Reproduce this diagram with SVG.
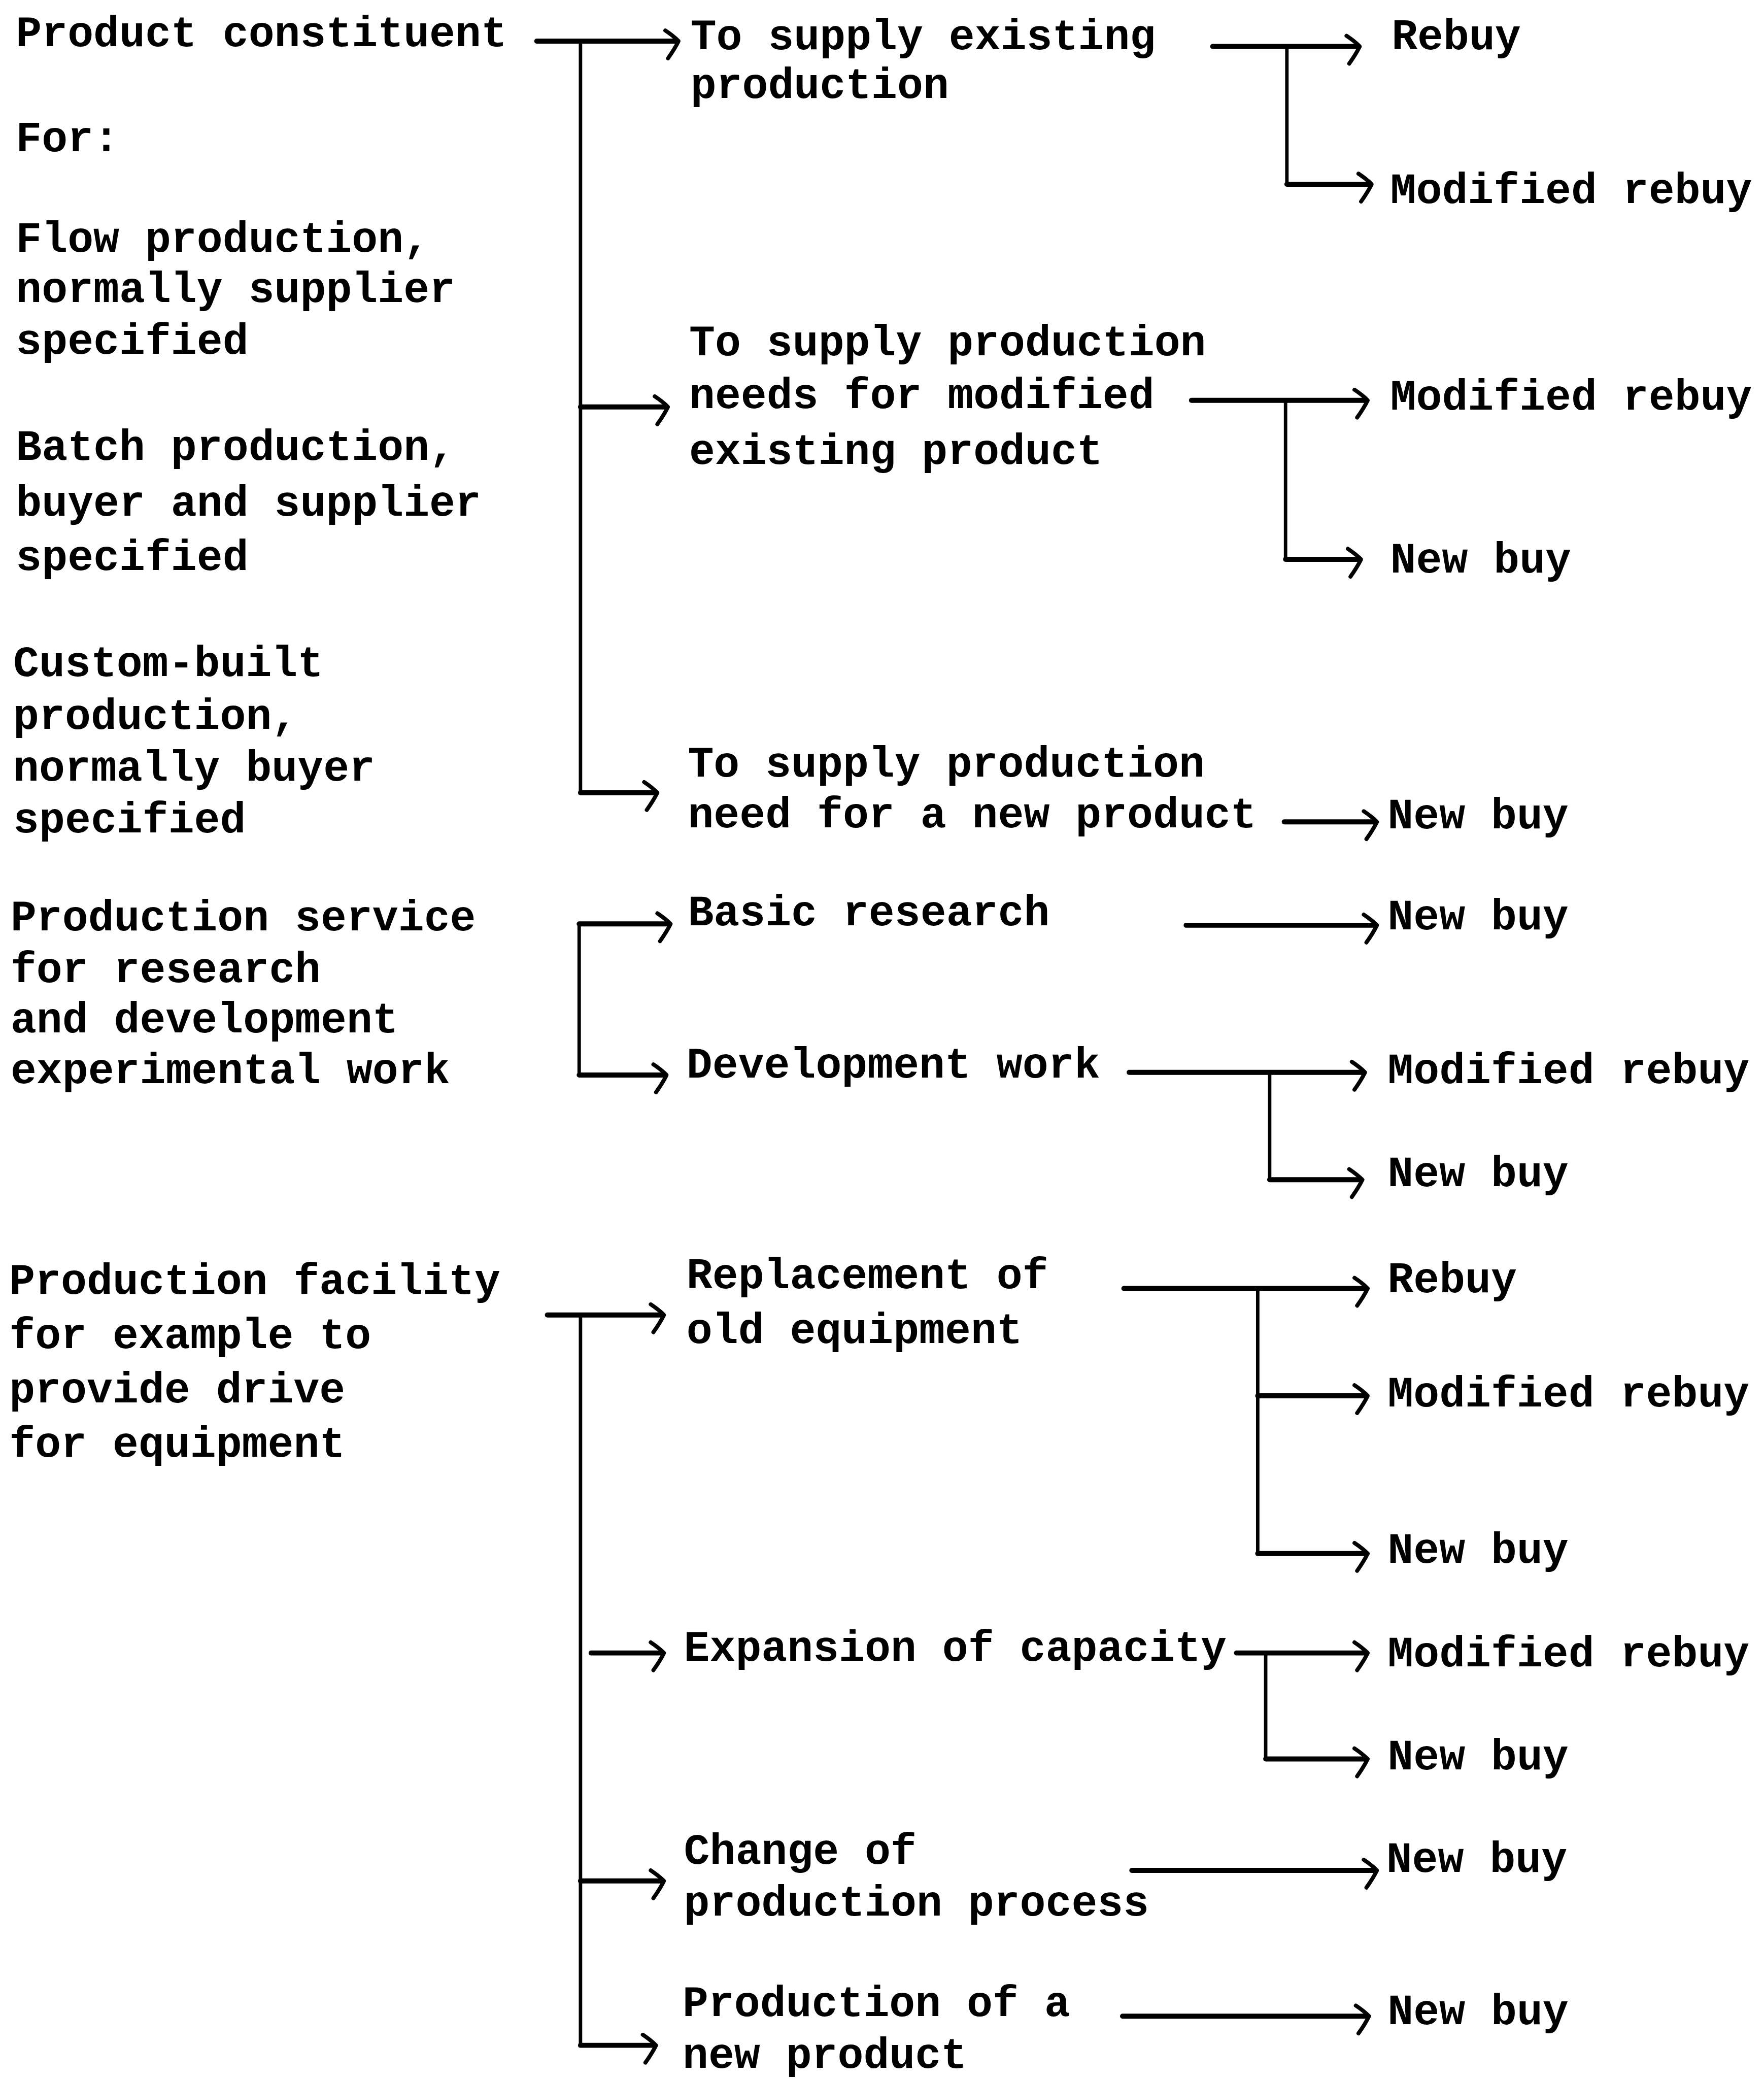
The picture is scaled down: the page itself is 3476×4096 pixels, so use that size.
<svg xmlns="http://www.w3.org/2000/svg" width="3476" height="4096" viewBox="0 0 3476 4096">
  <defs>
    <style>
      .t { font-family: "Liberation Mono", "Courier New", monospace; font-weight: bold; font-size: 32.5px; fill: #000; }
      .h { fill: none; stroke: #000; stroke-width: 3.8; stroke-linecap: round; stroke-linejoin: miter; }
      .v { fill: none; stroke: #000; stroke-width: 2.6; stroke-linecap: butt; }
      .a { marker-end: url(#hook); }
    </style>
    <!-- open hand-drawn style arrowhead, longer lower barb -->
    <marker id="hook" markerUnits="userSpaceOnUse" orient="auto" refX="0" refY="0" markerWidth="30" markerHeight="30" overflow="visible">
      <path d="M-9,-8 Q-3,-4 1,0 Q-2,6 -7,13" fill="none" stroke="#000" stroke-width="3" stroke-linecap="round" stroke-linejoin="round"/>
    </marker>
  </defs>
  <rect width="3476" height="4096" fill="#fff"/>
  <g transform="scale(2.61157)">

    <!-- connectors -->
    <g id="connectors">
      <!-- product constituent bracket -->
      <path class="h a" d="M405,31 H511"/>
      <path class="v" d="M438,31 V598"/>
      <path class="h a" d="M438,307 H503"/>
      <path class="h a" d="M438,598 H495"/>
      <!-- existing production -->
      <path class="h a" d="M915,35 H1025"/>
      <path class="v" d="M971,35 V139"/>
      <path class="h a" d="M971,139 H1034"/>
      <!-- modified existing product -->
      <path class="h a" d="M899,302 H1031"/>
      <path class="v" d="M970,302 V422"/>
      <path class="h a" d="M970,422 H1026"/>
      <!-- new product -->
      <path class="h a" d="M969,620 H1038"/>
      <!-- research and development bracket -->
      <path class="h a" d="M437,697 H505"/>
      <path class="v" d="M437,697 V811"/>
      <path class="h a" d="M437,811 H502"/>
      <path class="h a" d="M895,698 H1038"/>
      <path class="h a" d="M852,809 H1029"/>
      <path class="v" d="M958,809 V890"/>
      <path class="h a" d="M958,890 H1027"/>
      <!-- production facility bracket -->
      <path class="h a" d="M413,992 H500"/>
      <path class="v" d="M438,992 V1543"/>
      <path class="h a" d="M446,1247 H500"/>
      <path class="h a" d="M438,1419 H500"/>
      <path class="h a" d="M438,1543 H494"/>
      <!-- replacement -->
      <path class="h a" d="M848,972 H1031"/>
      <path class="v" d="M949,972 V1172"/>
      <path class="h a" d="M949,1053 H1031"/>
      <path class="h a" d="M949,1172 H1031"/>
      <!-- expansion -->
      <path class="h a" d="M933,1247 H1031"/>
      <path class="v" d="M955,1247 V1327"/>
      <path class="h a" d="M955,1327 H1031"/>
      <!-- change of process -->
      <path class="h a" d="M854,1411 H1038"/>
      <!-- new product facility -->
      <path class="h a" d="M847,1521 H1032"/>
    </g>

    <!-- left column: purchase categories -->
    <g id="product-constituent">
      <text class="t" x="12" y="35">Product constituent</text>
      <text class="t" x="12" y="114">For:</text>
    </g>
    <g id="flow-production">
      <text class="t" x="12" y="190">Flow production,</text>
      <text class="t" x="12" y="228">normally supplier</text>
      <text class="t" x="12" y="267">specified</text>
    </g>
    <g id="batch-production">
      <text class="t" x="12" y="347">Batch production,</text>
      <text class="t" x="12" y="389">buyer and supplier</text>
      <text class="t" x="12" y="430">specified</text>
    </g>
    <g id="custom-built">
      <text class="t" x="10" y="510">Custom-built</text>
      <text class="t" x="10" y="550">production,</text>
      <text class="t" x="10" y="589">normally buyer</text>
      <text class="t" x="10" y="628">specified</text>
    </g>
    <g id="production-service">
      <text class="t" x="8" y="702">Production service</text>
      <text class="t" x="8" y="741">for research</text>
      <text class="t" x="8" y="779">and development</text>
      <text class="t" x="8" y="817">experimental work</text>
    </g>
    <g id="production-facility">
      <text class="t" x="7" y="976">Production facility</text>
      <text class="t" x="7" y="1017">for example to</text>
      <text class="t" x="7" y="1058">provide drive</text>
      <text class="t" x="7" y="1099">for equipment</text>
    </g>

    <!-- middle column: purchase situations -->
    <g id="supply-existing">
      <text class="t" x="521" y="37">To supply existing</text>
      <text class="t" x="521" y="74">production</text>
    </g>
    <g id="supply-modified">
      <text class="t" x="520" y="268">To supply production</text>
      <text class="t" x="520" y="308">needs for modified</text>
      <text class="t" x="520" y="350">existing product</text>
    </g>
    <g id="supply-new">
      <text class="t" x="519" y="586">To supply production</text>
      <text class="t" x="519" y="624">need for a new product</text>
    </g>
    <g id="basic-research">
      <text class="t" x="519" y="698">Basic research</text>
    </g>
    <g id="development-work">
      <text class="t" x="518" y="813">Development work</text>
    </g>
    <g id="replacement">
      <text class="t" x="518" y="972">Replacement of</text>
      <text class="t" x="518" y="1013">old equipment</text>
    </g>
    <g id="expansion">
      <text class="t" x="516" y="1253">Expansion of capacity</text>
    </g>
    <g id="change-process">
      <text class="t" x="516" y="1406">Change of</text>
      <text class="t" x="516" y="1445">production process</text>
    </g>
    <g id="production-new">
      <text class="t" x="515" y="1521">Production of a</text>
      <text class="t" x="515" y="1560">new product</text>
    </g>

    <!-- right column: buy classes -->
    <g id="buy-classes">
      <text class="t" x="1050" y="37">Rebuy</text>
      <text class="t" x="1049" y="153">Modified rebuy</text>
      <text class="t" x="1049" y="309">Modified rebuy</text>
      <text class="t" x="1049" y="432">New buy</text>
      <text class="t" x="1047" y="625">New buy</text>
      <text class="t" x="1047" y="701">New buy</text>
      <text class="t" x="1047" y="817">Modified rebuy</text>
      <text class="t" x="1047" y="895">New buy</text>
      <text class="t" x="1047" y="975">Rebuy</text>
      <text class="t" x="1047" y="1061">Modified rebuy</text>
      <text class="t" x="1047" y="1179">New buy</text>
      <text class="t" x="1047" y="1257">Modified rebuy</text>
      <text class="t" x="1047" y="1335">New buy</text>
      <text class="t" x="1046" y="1412">New buy</text>
      <text class="t" x="1047" y="1527">New buy</text>
    </g>
  </g>
</svg>
